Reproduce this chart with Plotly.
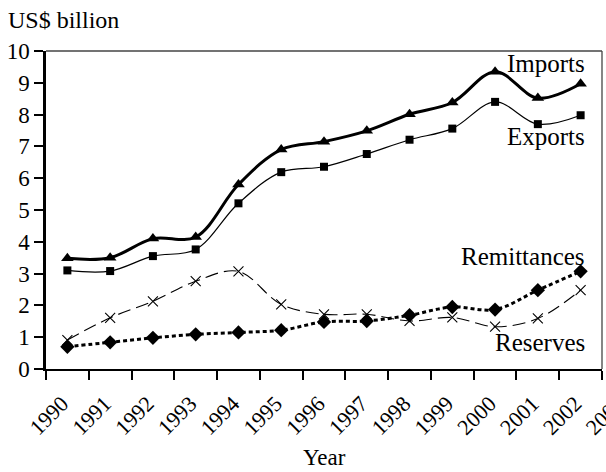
import plotly.graph_objects as go

years = [1990.5, 1991.5, 1992.5, 1993.5, 1994.5, 1995.5, 1996.5,
         1997.5, 1998.5, 1999.5, 2000.5, 2001.5, 2002.5]
imports = [3.48, 3.5, 4.1, 4.15, 5.8, 6.9, 7.15, 7.49, 8.01, 8.38, 9.35, 8.52, 8.97]
exports = [3.1, 3.08, 3.55, 3.76, 5.21, 6.19, 6.36, 6.76, 7.21, 7.56, 8.4, 7.7, 7.98]
remittances = [0.7, 0.84, 0.98, 1.09, 1.15, 1.22, 1.48, 1.51, 1.69, 1.95, 1.87, 2.48, 3.07]
reserves = [0.91, 1.61, 2.13, 2.76, 3.07, 2.03, 1.72, 1.72, 1.51, 1.62, 1.33, 1.59, 2.48]
tick_years = list(range(1990, 2004))
y_ticks = list(range(0, 11))

FONT = "Liberation Serif"

fig = go.Figure()
fig.add_trace(go.Scatter(x=years, y=reserves, mode="lines+markers",
                         line=dict(color="black", width=1.1, dash="13px,6px", shape="spline", smoothing=1),
                         marker=dict(symbol="x-thin-open", size=10, line=dict(color="black", width=1.1))))
fig.add_trace(go.Scatter(x=years, y=remittances, mode="lines+markers",
                         line=dict(color="black", width=3, dash="4px,3px", shape="spline", smoothing=1),
                         marker=dict(symbol="diamond", size=11, color="black")))
fig.add_trace(go.Scatter(x=years, y=exports, mode="lines+markers",
                         line=dict(color="black", width=1.2, shape="spline", smoothing=1),
                         marker=dict(symbol="square", size=8, color="black")))
fig.add_trace(go.Scatter(x=years, y=imports, mode="lines+markers",
                         line=dict(color="black", width=3, shape="spline", smoothing=1),
                         marker=dict(symbol="triangle-up", size=11, color="black")))

labels = [("Imports", 9.62), ("Exports", 7.3), ("Remittances", 3.55), ("Reserves", 0.82)]
for text, yv in labels:
    fig.add_annotation(x=2002.65, y=yv, xref="x", yref="y", text=text, showarrow=False,
                       xanchor="right", yanchor="middle",
                       font=dict(family=FONT, size=25, color="black"))

fig.add_annotation(x=-0.072, y=1.097, xref="paper", yref="paper", text="US$ billion",
                   showarrow=False, xanchor="left", yanchor="middle",
                   font=dict(family=FONT, size=24, color="black"))
fig.add_annotation(x=0.5, y=-0.277, xref="paper", yref="paper", text="Year",
                   showarrow=False, xanchor="center", yanchor="middle",
                   font=dict(family=FONT, size=23, color="black"))

# top and right frame lines
fig.add_shape(type="line", xref="paper", yref="paper", x0=0, x1=1, y0=1, y1=1,
              line=dict(color="#444", width=1.3))
fig.add_shape(type="line", xref="paper", yref="paper", x0=1, x1=1, y0=0, y1=1,
              line=dict(color="#444", width=1.3))

fig.update_layout(
    width=606, height=472,
    margin=dict(l=46, r=4, t=51, b=103),
    paper_bgcolor="white", plot_bgcolor="white",
    showlegend=False,
    font=dict(family=FONT, size=22, color="black"),
    xaxis=dict(range=[1990, 2003], tickvals=tick_years, ticktext=[str(t) for t in tick_years],
               tickangle=-45, ticks="outside", ticklen=9, tickwidth=1.5, tickcolor="black",
               showline=True, linecolor="black", linewidth=2, showgrid=False, zeroline=False,
               automargin=False, ticklabeloverflow="allow",
               ticklabelshift=16, ticklabelstandoff=2,
               tickfont=dict(family=FONT, size=22)),
    yaxis=dict(range=[0, 10], tickvals=y_ticks, ticks="outside", ticklen=9, tickwidth=1.5,
               tickcolor="black", showline=True, linecolor="black", linewidth=2.5,
               showgrid=False, zeroline=False, automargin=False, ticklabeloverflow="allow",
               tickfont=dict(family=FONT, size=23)),
)

fig.write_html("out.html", config={"displayModeBar": False},
               post_script="document.body.style.margin='0';document.body.style.padding='0';")
